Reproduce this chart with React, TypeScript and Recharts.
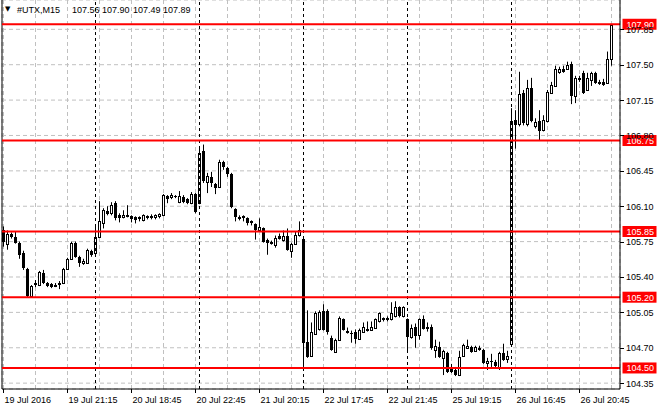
import {
  Bar,
  CartesianGrid,
  ComposedChart,
  ReferenceLine,
  XAxis,
  YAxis,
} from "recharts";

const FONT = "'Liberation Sans', Arial, sans-serif";

// 15 minute bars, 19 Jul 17:15 .. 26 Jul 22:45
const opens = [
  105.86, 105.73, 105.83, 105.8, 105.74, 105.64, 105.48, 105.21, 105.33, 105.32,
  105.44, 105.34, 105.33, 105.31, 105.33, 105.34, 105.48, 105.58, 105.74, 105.6,
  105.54, 105.54, 105.66, 105.64, 105.8, 105.93, 106.05, 106.03, 106.13, 106.01,
  105.99, 106.0, 106.0, 105.99, 105.98, 105.96, 106.0, 105.99, 105.99, 106.0,
  106.01, 106.2, 106.19, 106.2, 106.14, 106.19, 106.17, 106.13, 106.22, 106.13,
  106.65, 106.34, 106.39, 106.32, 106.29, 106.54, 106.48, 106.42, 106.07, 105.99,
  106.0, 105.98, 105.95, 105.92, 105.86, 105.88, 105.77, 105.75, 105.72, 105.81,
  105.77, 105.81, 105.66, 105.73, 105.82, 105.78, 104.76, 104.62, 104.84, 104.89,
  105.06, 105.06, 104.8, 104.66, 104.78, 104.98, 104.87, 104.85, 104.86, 104.79,
  104.86, 104.88, 104.88, 104.9, 104.96, 104.99, 104.98, 104.98, 105.01, 105.1,
  105.01, 104.98, 104.81, 104.91, 104.83, 104.98, 104.91, 104.91, 104.68, 104.71,
  104.6, 104.65, 104.51, 104.48, 104.43, 104.62, 104.7, 104.71, 104.67, 104.7,
  104.68, 104.55, 104.57, 104.56, 104.51, 104.65, 104.59, 104.74, 106.95, 106.91,
  107.22, 106.91, 107.27, 106.89, 106.94, 106.85, 106.94, 107.22, 107.29, 107.43,
  107.46, 107.46, 107.51, 107.19, 107.37, 107.42, 107.25, 107.35, 107.42, 107.33,
  107.33, 107.32, 107.56,
];

const highs = [
  105.9, 105.86, 105.84, 105.85, 105.75, 105.66, 105.49, 105.32, 105.37, 105.46,
  105.47, 105.35, 105.34, 105.34, 105.36, 105.49, 105.59, 105.75, 105.75, 105.61,
  105.58, 105.68, 105.67, 105.91, 106.15, 106.08, 106.1, 106.14, 106.15, 106.03,
  106.06, 106.11, 106.01, 106.0, 106.0, 106.02, 106.01, 106.02, 106.02, 106.03,
  106.22, 106.21, 106.23, 106.21, 106.25, 106.21, 106.18, 106.24, 106.23, 106.69,
  106.71, 106.43, 106.44, 106.33, 106.56, 106.55, 106.49, 106.43, 106.08, 106.01,
  106.01, 105.99, 105.96, 105.93, 105.98, 105.89, 105.78, 105.76, 105.81, 105.83,
  105.86, 105.88, 105.74, 105.85, 105.95, 105.8, 105.07, 104.95, 105.06, 105.07,
  105.13, 105.08, 104.82, 104.79, 105.01, 104.99, 104.9, 104.87, 104.88, 104.89,
  104.95, 104.96, 104.96, 104.99, 105.05, 105.0, 105.01, 105.15, 105.16, 105.11,
  105.11, 104.99, 104.93, 104.94, 104.99, 105.02, 104.95, 104.93, 104.78, 104.76,
  104.68, 104.66, 104.54, 104.51, 104.67, 104.74, 104.78, 104.72, 104.72, 104.72,
  104.69, 104.6, 104.64, 104.58, 104.66, 104.74, 104.67, 107.07, 107.05, 107.43,
  107.25, 107.35, 107.37, 106.97, 107.05, 107.0, 107.25, 107.33, 107.49, 107.48,
  107.49, 107.53, 107.53, 107.39, 107.39, 107.44, 107.42, 107.43, 107.43, 107.35,
  107.36, 107.63, 107.9,
];

const lows = [
  105.7, 105.67, 105.78, 105.73, 105.58, 105.47, 105.2, 105.2, 105.3, 105.31,
  105.33, 105.3, 105.29, 105.3, 105.28, 105.33, 105.47, 105.57, 105.59, 105.5,
  105.52, 105.53, 105.6, 105.61, 105.79, 105.88, 106.01, 106.01, 105.96, 105.94,
  105.98, 105.99, 105.94, 105.93, 105.95, 105.95, 105.97, 105.97, 105.97, 105.98,
  106.0, 106.13, 106.17, 106.18, 106.13, 106.13, 106.12, 106.12, 106.03, 106.12,
  106.33, 106.23, 106.29, 106.22, 106.28, 106.46, 106.39, 106.08, 105.95, 105.96,
  105.95, 105.91, 105.91, 105.77, 105.85, 105.74, 105.62, 105.72, 105.69, 105.77,
  105.75, 105.66, 105.59, 105.72, 105.8, 104.51, 104.6, 104.61, 104.83, 104.87,
  104.87, 104.83, 104.67, 104.65, 104.77, 104.87, 104.84, 104.75, 104.74, 104.78,
  104.85, 104.86, 104.87, 104.89, 104.95, 104.96, 104.96, 104.97, 105.0, 105.0,
  105.0, 104.66, 104.79, 104.7, 104.78, 104.88, 104.86, 104.68, 104.6, 104.6,
  104.43, 104.45, 104.45, 104.42, 104.42, 104.61, 104.69, 104.65, 104.66, 104.67,
  104.54, 104.48, 104.51, 104.5, 104.48, 104.57, 104.55, 104.72, 106.67, 106.89,
  106.9, 106.89, 106.93, 106.87, 106.75, 106.84, 106.93, 107.21, 107.28, 107.41,
  107.42, 107.45, 107.11, 107.12, 107.33, 107.21, 107.24, 107.29, 107.31, 107.3,
  107.29, 107.31, 107.49,
];

const closes = [
  105.75, 105.83, 105.8, 105.74, 105.62, 105.49, 105.21, 105.31, 105.34, 105.45,
  105.34, 105.31, 105.3, 105.32, 105.34, 105.48, 105.58, 105.74, 105.6, 105.54,
  105.56, 105.67, 105.62, 105.8, 105.95, 106.06, 106.02, 106.11, 105.98, 105.98,
  106.01, 106.01, 105.97, 105.96, 105.99, 106.01, 105.98, 106.0, 106.01, 106.02,
  106.21, 106.17, 106.21, 106.19, 106.2, 106.14, 106.13, 106.22, 106.04, 106.63,
  106.35, 106.4, 106.33, 106.28, 106.54, 106.49, 106.42, 106.09, 105.99, 105.97,
  105.98, 105.93, 105.93, 105.86, 105.89, 105.75, 105.74, 105.73, 105.79, 105.78,
  105.81, 105.67, 105.73, 105.82, 105.86, 104.75, 104.61, 104.86, 105.04, 105.05,
  104.88, 104.86, 104.68, 104.78, 104.99, 104.88, 104.85, 104.84, 104.79, 104.88,
  104.91, 104.89, 104.91, 104.98, 105.04, 104.97, 104.99, 105.04, 105.1, 105.01,
  105.1, 104.81, 104.9, 104.82, 104.98, 104.89, 104.89, 104.7, 104.72, 104.61,
  104.67, 104.46, 104.46, 104.43, 104.61, 104.73, 104.72, 104.66, 104.71, 104.68,
  104.55, 104.57, 104.56, 104.52, 104.65, 104.58, 104.62, 106.94, 106.9, 107.21,
  106.92, 107.27, 106.94, 106.93, 106.84, 106.95, 107.23, 107.3, 107.46, 107.46,
  107.43, 107.5, 107.19, 107.37, 107.35, 107.22, 107.37, 107.42, 107.32, 107.31,
  107.3, 107.56, 107.89,
];

const gridBars = [
  0, 8, 16, 24, 32, 40, 48, 56, 64, 72, 80, 88, 96, 104, 112, 120, 128, 136, 144, 152,
];
const labelBars = [0, 16, 32, 48, 64, 80, 96, 112, 128, 144];
const labelTexts = [
  "19 Jul 2016",
  "19 Jul 21:15",
  "20 Jul 18:45",
  "20 Jul 22:45",
  "21 Jul 20:15",
  "22 Jul 17:45",
  "22 Jul 21:45",
  "25 Jul 19:15",
  "26 Jul 16:45",
  "26 Jul 20:45",
];
const dayStarts = [23, 49, 75, 101, 127];
const priceTicks = [
  104.35, 104.7, 105.05, 105.4, 105.75, 106.1, 106.45, 106.8, 107.15, 107.5, 107.85,
];
const levels = [107.9, 106.75, 105.85, 105.2, 104.5];
const headerParts = ["#UTX,M15", "107.56", "107.90", "107.49", "107.89"];
const headerX = [17, 72, 102, 133, 163];

const data = opens.map((open, i) => ({
  i,
  open,
  high: highs[i],
  low: lows[i],
  close: closes[i],
  range: [lows[i], highs[i]],
}));

const Candle = (props: any) => {
  const { x, y, width, height, payload } = props;
  const { open, close, high, low } = payload;
  const cx = Math.floor(x + width / 2) + 0.5;
  const ratio = high > low ? height / (high - low) : 0;
  const top = y + (high - Math.max(open, close)) * ratio;
  const bot = y + (high - Math.min(open, close)) * ratio;
  const bull = close >= open;
  return (
    <g>
      <line x1={cx} x2={cx} y1={y} y2={y + height} stroke="#000" strokeWidth={1} />
      {bull ? (
        <rect
          x={cx - 1}
          y={Math.round(top) + 0.5}
          width={2}
          height={Math.max(Math.round(bot) - Math.round(top), 1)}
          fill="#fff"
          stroke="#000"
          strokeWidth={1}
        />
      ) : (
        <rect
          x={cx - 1.5}
          y={Math.round(top)}
          width={3}
          height={Math.max(Math.round(bot) - Math.round(top), 1)}
          fill="#000"
        />
      )}
    </g>
  );
};

const XTick = (props: any) => {
  const { x, y, payload } = props;
  const k = labelBars.indexOf(payload.value);
  if (k < 0) return <g />;
  const px = Math.floor(x) + 0.5;
  return (
    <g>
      <line x1={px} x2={px} y1={y} y2={y + 4} stroke="#000" />
      <text x={px + 1} y={y + 14} fontSize={9} fontFamily={FONT} fill="#000">
        {labelTexts[k]}
      </text>
    </g>
  );
};

const YTick = (props: any) => {
  const { x, y, payload } = props;
  const py = Math.round(y) + 0.5;
  return (
    <g>
      <line x1={x} x2={x + 4} y1={py} y2={py} stroke="#000" />
      <text x={x + 6} y={y + 3.5} fontSize={9} fontFamily={FONT} fill="#000">
        {payload.value.toFixed(2)}
      </text>
    </g>
  );
};

const LevelTag = (props: any) => {
  const { viewBox, value } = props;
  const left = viewBox.x + viewBox.width + 2.5;
  return (
    <g>
      <rect x={left} y={viewBox.y - 5.5} width={34} height={11} fill="#ff0000" />
      <text x={left + 4} y={viewBox.y + 3.5} fontSize={9} fontFamily={FONT} fill="#fff">
        {value}
      </text>
    </g>
  );
};

const App = () => {
  return (
    <div
      style={{
        position: "absolute",
        left: 0,
        top: 0,
        width: 660,
        height: 410,
        background: "#fff",
      }}
    >
      <ComposedChart
        width={660}
        height={410}
        data={data}
        margin={{ top: 0, right: 0, left: 2, bottom: 0 }}
      >
        <CartesianGrid stroke="#c0c0c0" strokeDasharray="4 3" />
        <XAxis
          dataKey="i"
          type="number"
          domain={[-0.375, 154.125]}
          allowDataOverflow
          ticks={gridBars}
          interval={0}
          height={21}
          tickSize={0}
          tickMargin={0}
          tickLine={false}
          tick={<XTick />}
          axisLine={{ stroke: "#000" }}
        />
        <YAxis
          orientation="right"
          type="number"
          domain={[104.292, 108.14]}
          allowDataOverflow
          ticks={priceTicks}
          interval={0}
          width={40}
          tickSize={0}
          tickMargin={0}
          tickLine={false}
          tick={<YTick />}
          axisLine={{ stroke: "#000" }}
        />
        <ReferenceLine x={-0.375} stroke="#000" strokeWidth={1} />
        {dayStarts.map((d) => (
          <ReferenceLine key={d} x={d} stroke="#000" strokeDasharray="3 3" />
        ))}
        {levels.map((lv) => (
          <ReferenceLine
            key={lv}
            y={lv}
            stroke="#ff0000"
            strokeWidth={2}
            label={(p: any) => <LevelTag viewBox={p.viewBox} value={lv.toFixed(2)} />}
          />
        ))}
        <Bar
          dataKey="range"
          barSize={3}
          shape={<Candle />}
          isAnimationActive={false}
        />
      </ComposedChart>
      <div
        style={{
          position: "absolute",
          left: 0,
          top: 0,
          width: 200,
          height: 20,
          fontFamily: FONT,
          fontSize: 9,
          color: "#000",
        }}
      >
        <span style={{ position: "absolute", left: 5, top: 5, fontSize: 7, fontFamily: "'DejaVu Sans'" }}>
          ▼
        </span>
        {headerParts.map((t, k) => (
          <span key={t} style={{ position: "absolute", left: headerX[k], top: 5, lineHeight: "11px" }}>
            {t}
          </span>
        ))}
      </div>
    </div>
  );
};

export default App;
